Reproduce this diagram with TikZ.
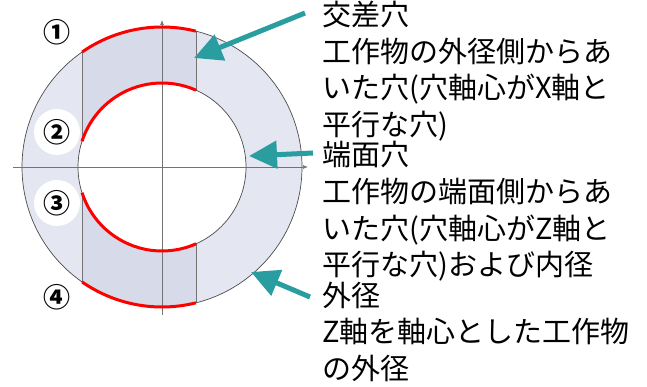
\documentclass[tikz,border=0pt]{standalone}
\usepackage{fontspec}
\setmainfont{Noto Sans CJK JP}
\usetikzlibrary{arrows.meta, positioning}
\definecolor{ringblue}{RGB}{228,230,241}
\definecolor{bandblue}{RGB}{215,218,232}
\definecolor{callteal}{RGB}{42,157,160}
\tikzset{>=Latex}
\tikzset{rimline/.style = {draw=black!70, line width=0.7pt},
         axisline/.style = {draw=black!55, line width=0.7pt},
         redge/.style = {draw=red, line width=3pt},
         numlabel/.style = {circle, inner sep=0pt, minimum size=46pt, font=\bfseries\fontsize{27}{27}\selectfont},
         callout/.style = {draw=callteal, line width=5pt, -{Triangle[length=28pt, width=27pt]}},
         note/.style = {anchor=north west, inner sep=0pt, align=left, font=\fontsize{29}{36.6}\selectfont}}

\begin{document}
\begin{tikzpicture}[x=1pt, y=1pt]
  \useasboundingbox (0,0) rectangle (647,387);
  \coordinate (o) at (162,220);

  % ring with the band of the cross hole
  \fill[ringblue, even odd rule] (o) circle (140) (o) circle (84);
  \begin{scope}[even odd rule]
    \clip (o) circle (140) (o) circle (84);
    \fill[bandblue] (82,70) rectangle (196,370);
    \draw[axisline] (82,70) -- (82,370) (196,70) -- (196,370);
  \end{scope}
  \draw[rimline] (o) circle (140) (o) circle (84);

  % axes
  \draw[axisline, -{Latex[length=5pt, width=4pt]}] (13,220) -- (308,220);
  \draw[axisline, -{Latex[length=5pt, width=4pt]}] (162,72) -- (162,367);

  % red edges
  \foreach \r/\a/\b in {140/76/124.8, 140/235.2/284, 84/66.1/162.2, 84/197.8/293.9}
    \draw[redge] (o) ++(\a:\r) arc[start angle=\a, end angle=\b, radius=\r];

  % numbers
  \node[numlabel] (n1) at (57,355) {①};
  \node[numlabel, fill=white] (n2) at (57,255) {②};
  \node[numlabel, fill=white] (n3) at (57,184) {③};
  \node[numlabel] (n4) at (57,90) {④};

  % notes
  \node[note] (cross) at (322,386) {交差穴\\工作物の外径側からあ\\いた穴(穴軸心がX軸と\\平行な穴)};
  \node[note, below=0pt of cross.south west, anchor=north west] (face) {端面穴\\工作物の端面側からあ\\いた穴(穴軸心がZ軸と\\平行な穴)および内径};
  \node[note, below=0pt of face.south west, anchor=north west] (outer) {外径\\Z軸を軸心とした工作物\\の外径};

  % arrows
  \coordinate (crosstail) at (305,374);
  \coordinate (crosstip) at (194,329);
  \coordinate (facetail) at (313,234);
  \coordinate (facetip) at (249,231);
  \coordinate (outertail) at (310,90);
  \coordinate (outertip) at (251,115);
  \draw[callout] (crosstail) -- (crosstip);
  \draw[callout] (facetail) -- (facetip);
  \draw[callout] (outertail) -- (outertip);
\end{tikzpicture}
\end{document}
